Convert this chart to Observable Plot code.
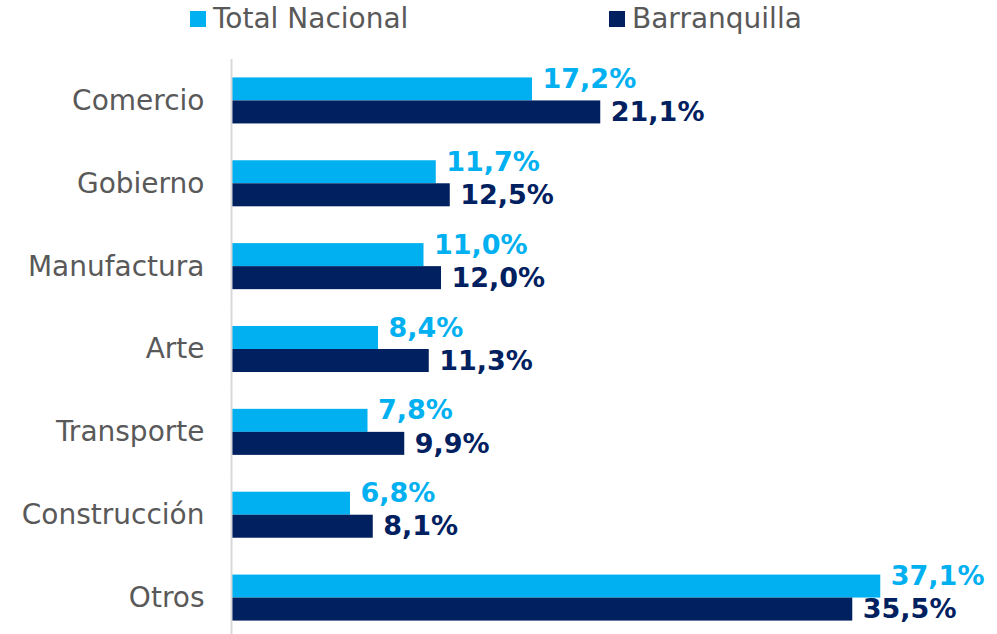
<!DOCTYPE html>
<html>
<head>
<meta charset="utf-8">
<script src="https://cdn.jsdelivr.net/npm/d3@7"></script>
<script src="https://cdn.jsdelivr.net/npm/@observablehq/plot@0.6"></script>
<style>
  html, body { margin: 0; padding: 0; background: #fff; overflow: hidden; }
  #legend { position: relative; height: 40px; width: 997px; font-family: "DejaVu Sans", sans-serif; font-size: 28px; color: #595959; }
  .item { position: absolute; top: 2px; display: flex; align-items: center; }
  .sw { width: 16px; height: 16px; margin-right: 7px; }
  #chart svg { display: block; }
</style>
</head>
<body>
<div id="legend"></div>
<div id="chart"></div>
<script>
const categories = ["Comercio", "Gobierno", "Manufactura", "Arte", "Transporte", "Construcción", "Otros"];
const seriesNames = ["Total Nacional", "Barranquilla"];
const totalNacional = [17.2, 11.7, 11.0, 8.4, 7.8, 6.8, 37.1];
const barranquilla = [21.1, 12.5, 12.0, 11.3, 9.9, 8.1, 35.5];
const colors = ["#00B0F0", "#002060"];

const data = [];
categories.forEach((c, i) => {
  data.push({cat: c, series: seriesNames[0], value: totalNacional[i]});
  data.push({cat: c, series: seriesNames[1], value: barranquilla[i]});
});
const fmt = d => d.value.toFixed(1).replace(".", ",") + "%";

// legend
const legend = document.getElementById("legend");
const lefts = [190, 609];
seriesNames.forEach((s, i) => {
  const it = document.createElement("div");
  it.className = "item";
  it.style.left = lefts[i] + "px";
  const sw = document.createElement("div");
  sw.className = "sw";
  sw.style.background = colors[i];
  const t = document.createElement("span");
  t.textContent = s;
  it.appendChild(sw); it.appendChild(t);
  legend.appendChild(it);
});

const plot = Plot.plot({
  width: 997,
  height: 599,
  marginTop: 19,
  marginBottom: 0,
  marginLeft: 231,
  marginRight: 0,
  style: {fontFamily: "DejaVu Sans, sans-serif", fontSize: "28px", color: "#595959", background: "#fff"},
  x: {domain: [0, 43.77], axis: null},
  y: {domain: seriesNames, paddingInner: 0, paddingOuter: 0.8, round: false, axis: null},
  fy: {domain: categories, padding: 0, round: false, label: null, tickSize: 0, tickPadding: 27},
  color: {domain: seriesNames, range: colors},
  marks: [
    Plot.barX(data, {fy: "cat", y: "series", x: "value", fill: "series"}),
    Plot.ruleX([0], {stroke: "#D9D9D9", strokeWidth: 2}),
    Plot.text(data.filter(d => d.series === seriesNames[0]), {fy: "cat", y: "series", x: "value", text: fmt, textAnchor: "start", dx: 10, dy: -10, fill: colors[0], fontWeight: "bold", fontSize: 27}),
    Plot.text(data.filter(d => d.series === seriesNames[1]), {fy: "cat", y: "series", x: "value", text: fmt, textAnchor: "start", dx: 10, dy: 0, fill: colors[1], fontWeight: "bold", fontSize: 27})
  ]
});
document.getElementById("chart").appendChild(plot);
</script>
</body>
</html>
